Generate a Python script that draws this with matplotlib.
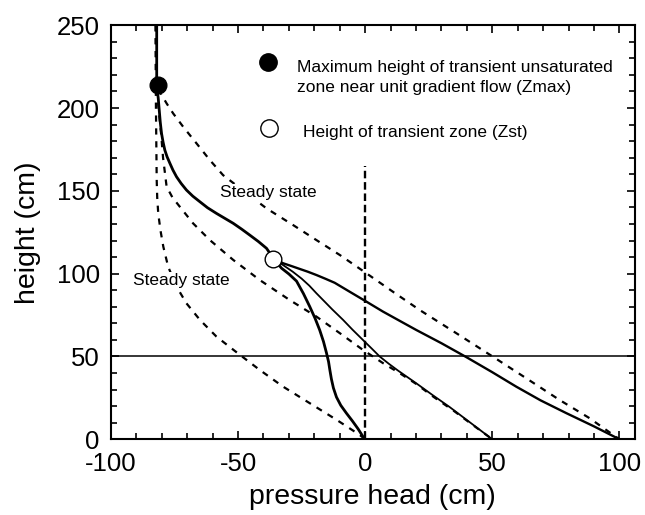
"""
Pressure head profiles: transient vs steady state
"""

import matplotlib
matplotlib.use("Agg")
import matplotlib.pyplot as plt
from matplotlib.ticker import MultipleLocator

plt.rcParams['font.family'] = ['Liberation Sans', 'DejaVu Sans']
plt.rcParams['axes.unicode_minus'] = False

# transient profile from Zmax down to Zst
main_x = [-82, -82, -81.4, -81.0, -80.6, -80.1, -79.5, -78.8, -77.9, -76.8, -75.6, -74.2, -72.4, -70.3,
          -67.8, -65.0, -62.0, -58.5, -55.2, -51.9, -48.6, -45.4, -42.0, -38.8, -36]
main_y = [250, 213, 206, 198.7, 191.5, 184.7, 179.5, 174.6, 170.5, 166.6, 162.5, 158.5, 154.5, 150.5,
          146.8, 143.4, 139.8, 136.4, 133.4, 130.4, 126.9, 123.3, 119.4, 115.3, 109]

# branches below Zst
br0_x = [-36, -32.9, -30.0, -27.0, -24.3, -21.8, -19.7, -17.9, -16.4, -15.2, -14.4, -13.9, -13.3, -12.5,
         -11.3, -9.6, -7.4, -5.0, -2.8, -0.9, 0]
br0_y = [109, 103.3, 99.8, 95.5, 88.0, 80.1, 73.0, 66.0, 59.0, 52.0, 46.8, 41.9, 36.5, 31.0,
         25.5, 20.5, 15.8, 11.0, 6.3, 1.7, 0]
br50_x = [-36, -32.3, -28.5, -25, -22, -19.2, -16, -13, -8.7, -5, -0.9, 2.5, 5.7, 9.3, 12.9, 20.1, 26.6, 33.2, 42, 50]
br50_y = [109, 105.2, 101.2, 97, 92.8, 88.2, 83.2, 78.5, 72.1, 66.2, 60, 54.9, 50, 45.6, 41.5, 33.8, 26.6, 19.5, 9.3, 0]
br100_x = [-36, -32.3, -29, -26, -22.6, -19.2, -15.6, -12, -6.1, 0.5, 7, 13.6, 20.1, 30, 39.8, 50, 59.4, 69, 79.1, 90, 100]
br100_y = [109, 106.3, 104.6, 103, 101.2, 99.2, 96.9, 94.5, 89.1, 83.1, 77.1, 71.5, 66, 58, 49.6, 40.5, 31.8, 23.5, 15.8, 7.8, 0]

# steady state profiles
ss0_x = [-82.5, -82.3, -82.0, -81.8, -81.4, -80.5, -79.4, -77.5, -74.2, -70.3, -65.0, -58.5, -49.3, -41.5,
         -32.3, -21.8, -11.3, -2.2, 0]
ss0_y = [250, 200, 156.5, 146, 136.4, 126, 116.3, 104.2, 92.2, 82.1, 72.1, 62.0, 51.0, 41.9,
         31.8, 21.8, 11.8, 2.7, 0]
ss50_x = [-82, -82, -81.3, -80.3, -79.5, -78.1, -75.8, -72.9, -67.7, -61.1, -51.9, -41.5, -29.7, -19.2,
          -10.0, -0.9, 7.0, 13.6, 20, 27, 35, 42, 50]
ss50_y = [250, 215, 200, 185, 170, 152.5, 146, 140.4, 130.4, 120.3, 108.3, 96.2, 84.1, 74.1,
          64.1, 54.0, 46.0, 39.9, 33.5, 25.5, 17, 9, 0]
ss100_x = [-82, -82, -78.1, -75.5, -71.6, -66.3, -61.1, -55.9, -47, -38.8, -28.4, -19.2, -10, -0.9,
           10.9, 21.4, 35.8, 50.2, 63.3, 76.4, 88.2, 100]
ss100_y = [250, 213, 202.8, 196.7, 188.7, 178.6, 168.6, 159.5, 149, 139.4, 129.4, 120.3, 111.3, 101.7,
           89.1, 78.1, 64.1, 49.9, 36.9, 23.8, 12.8, 0]

zmax = (-81.4, 213.8)
zst = (-36.2, 108.9)

fig = plt.figure(figsize=(6.45, 5.15), dpi=100)
ax = fig.add_axes([0.172, 0.147, 0.812, 0.804])

dash = (0, (2.8, 3.0))
for xs, ys in [(ss0_x, ss0_y), (ss50_x, ss50_y), (ss100_x, ss100_y)]:
    ax.plot(xs, ys, color='black', lw=1.6, linestyle=dash, zorder=2)

ax.axhline(50, color='black', lw=1.1, zorder=2)
ax.plot([0, 0], [0, 165], color='black', lw=1.7, linestyle=(0, (3.2, 1.6)), zorder=3)

ax.plot(main_x, main_y, color='black', lw=2.0, zorder=4)
ax.plot(br0_x, br0_y, color='black', lw=2.0, zorder=4)
ax.plot(br50_x, br50_y, color='black', lw=1.3, zorder=4)
ax.plot(br100_x, br100_y, color='black', lw=1.7, zorder=4)

ax.plot(*zmax, 'o', ms=12, color='black', zorder=5)
ax.plot(*zst, 'o', ms=12, mfc='white', mec='black', mew=1.0, zorder=5)

# legend-like notes
ax.plot(-38.3, 227.7, 'o', ms=12.5, color='black', zorder=5)
ax.plot(-37.7, 187.9, 'o', ms=12.5, mfc='white', mec='black', mew=1.0, zorder=5)
ax.text(-26.9, 221.7, 'Maximum height of transient unsaturated', fontsize=12.5, va='baseline')
ax.text(-26.9, 209.6, 'zone near unit gradient flow (Zmax)', fontsize=12.5, va='baseline')
ax.text(-24.6, 182.4, 'Height of transient zone (Zst)', fontsize=12.5, va='baseline')

box = dict(facecolor='white', edgecolor='none', pad=0.5)
ax.text(-57.1, 146.3, 'Steady state', fontsize=12.5, va='baseline', bbox=box, zorder=3)
ax.text(-91.3, 93.2, 'Steady state', fontsize=12.5, va='baseline', bbox=box, zorder=3)

ax.set_xlim(-100, 106)
ax.set_ylim(0, 250)
ax.xaxis.set_major_locator(MultipleLocator(50))
ax.xaxis.set_minor_locator(MultipleLocator(10))
ax.yaxis.set_major_locator(MultipleLocator(50))
ax.yaxis.set_minor_locator(MultipleLocator(10))
ax.tick_params(which='both', direction='in', top=True, right=True, width=1.2, labelsize=18.5)
ax.tick_params(which='major', length=5.5)
ax.tick_params(which='minor', length=4)
ax.tick_params(axis='x', pad=9.5)
ax.tick_params(axis='y', pad=8)
for s in ax.spines.values():
    s.set_linewidth(1.5)

ax.set_xlabel('pressure head (cm)', fontsize=20.5, labelpad=5.5)
ax.set_ylabel('height (cm)', fontsize=20.5, labelpad=11)

fig.savefig('out.png', dpi=100)
